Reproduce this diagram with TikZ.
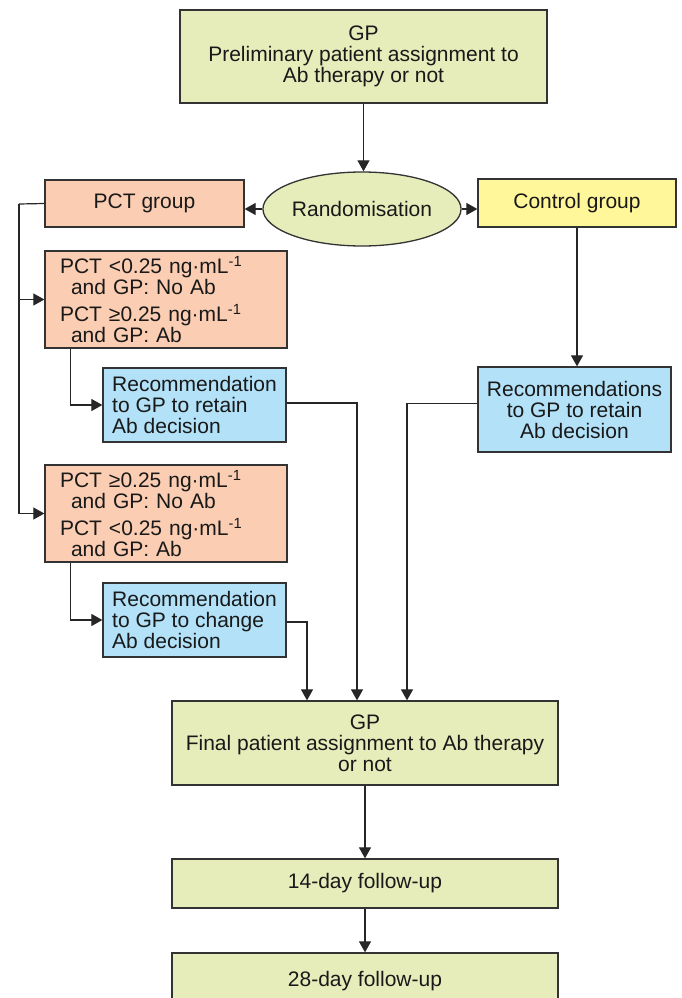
\documentclass[tikz,border=0pt]{standalone}
\usepackage{fontspec}
\setmainfont{Liberation Sans}
\usetikzlibrary{arrows.meta,shapes.geometric}
\definecolor{gfill}{HTML}{E6EDBA}
\definecolor{sfill}{HTML}{FBCDB2}
\definecolor{yfill}{HTML}{FFF799}
\definecolor{bfill}{HTML}{B2E1F8}
\definecolor{edge}{HTML}{333333}
\begin{document}
\begin{tikzpicture}[x=1pt,y=-1pt,
  box/.style={draw=edge, line width=1.3pt, inner sep=0pt,
    font=\fontsize{21}{21}\selectfont, align=center, text=black!90},
  gbox/.style={box, fill=gfill},
  sbox/.style={box, fill=sfill},
  ybox/.style={box, fill=yfill},
  bbox/.style={box, fill=bfill},
  pctbox/.style={sbox, align=left, text width=212pt, inner xsep=15pt, minimum height=97pt},
  recbox/.style={bbox, align=left, minimum width=183pt, minimum height=74pt},
  conn/.style={draw=black!85, line width=1.2pt},
  arr/.style={conn, -{Triangle[length=11pt,width=12pt]}}
]
\useasboundingbox (0,0) rectangle (681,998);

% nodes
\node[gbox, minimum width=367pt, minimum height=93pt] (top) at (363.5,56.5)
  {GP\\Preliminary patient assignment to\\Ab therapy or not};
\node[gbox, ellipse, minimum width=186pt, minimum height=74pt] (rand) at (362,209)
  {Randomisation};
\node[sbox, minimum width=199pt, minimum height=47pt] (pctg) at (144.5,203.5)
  {PCT group};
\node[ybox, minimum width=198pt, minimum height=48pt] (ctrl) at (577,203)
  {Control group};
\node[pctbox] (pct1) at (166,299.5)
  {PCT <0.25 ng·mL\textsuperscript{-1}\\\hspace*{11pt}and GP: No Ab\\[6pt]PCT ≥0.25 ng·mL\textsuperscript{-1}\\\hspace*{11pt}and GP: Ab};
\node[recbox] (rec1) at (194.5,405)
  {Recommendation\\to GP to retain\\Ab decision};
\node[pctbox] (pct2) at (166,513.5)
  {PCT ≥0.25 ng·mL\textsuperscript{-1}\\\hspace*{11pt}and GP: No Ab\\[6pt]PCT <0.25 ng·mL\textsuperscript{-1}\\\hspace*{11pt}and GP: Ab};
\node[recbox] (rec2) at (194.5,620)
  {Recommendation\\to GP to change\\Ab decision};
\node[bbox, minimum width=193pt, minimum height=85pt] (rec3) at (574.5,409.5)
  {Recommendations\\to GP to retain\\Ab decision};
\node[gbox, minimum width=386pt, minimum height=84pt] (final) at (365,743)
  {GP\\Final patient assignment to Ab therapy\\or not};
\node[gbox, minimum width=386pt, minimum height=49pt] (d14) at (365,883.5)
  {14-day follow-up};
\node[gbox, minimum width=386pt, minimum height=54pt, text depth=2pt] (d28) at (365,980)
  {28-day follow-up};

% helper coordinates
\coordinate (lt) at (19,204);
\coordinate (a1) at (307,0);
\coordinate (a2) at (357,0);
\coordinate (a3) at (407,0);

% connectors
\draw[arr] (top.south) -- (top.south |- rand.north);
\draw[arr] (rand.west) -- (rand.west -| pctg.east);
\draw[arr] (rand.east) -- (rand.east -| ctrl.west);
\draw[conn] (pctg.west) -- (lt);
\draw[arr] (lt) |- (pct2.west);
\draw[arr] (lt |- pct1.west) -- (pct1.west);
\draw[arr] ([xshift=26pt]pct1.south west) |- (rec1.west);
\draw[arr] ([xshift=26pt]pct2.south west) |- (rec2.west);
\draw[arr] (ctrl.south) -- (ctrl.south |- rec3.north);
\draw[arr] ([yshift=2pt]rec1.east) -| (a2 |- final.north);
\draw[arr] ([yshift=-2pt]rec2.east) -| (a1 |- final.north);
\draw[arr] ([yshift=6pt]rec3.west) -| (a3 |- final.north);
\draw[arr] (final.south) -- (d14.north);
\draw[arr] (d14.south) -- (d28.north);
\end{tikzpicture}
\end{document}
